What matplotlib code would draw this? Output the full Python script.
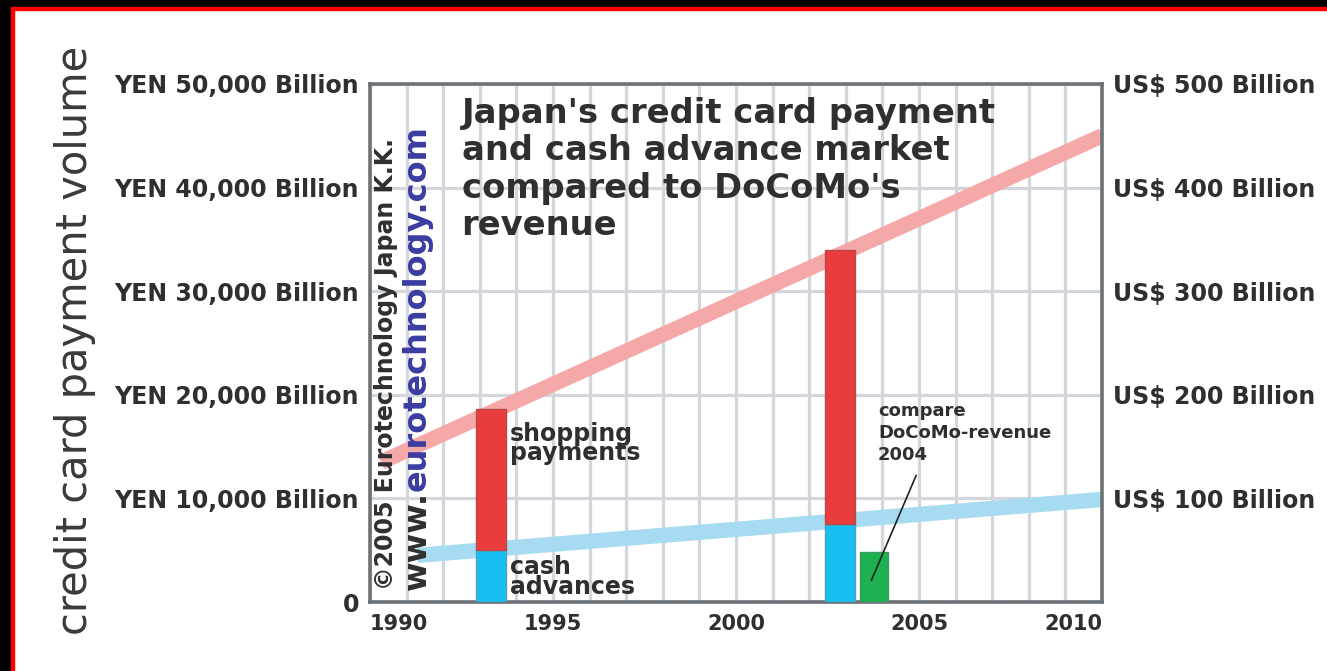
import matplotlib
matplotlib.use("Agg")
import matplotlib.pyplot as plt
from matplotlib.patches import Rectangle

# data (YEN billion)
bar_years = [1993.3, 2002.85]
cash_advances = [5000, 7500]
shopping_payments = [13650, 26450]
docomo_year = 2003.77
docomo_revenue = 4800

payment_trend_x = [1990.3, 2010]
payment_trend_y = [13500, 45000]
cash_trend_x = [1991.3, 2010]
cash_trend_y = [4500, 9900]

yen_ticks = [0, 10000, 20000, 30000, 40000, 50000]
yen_labels = ['0', 'YEN 10,000 Billion', 'YEN 20,000 Billion', 'YEN 30,000 Billion',
              'YEN 40,000 Billion', 'YEN 50,000 Billion']
usd_ticks = [10000, 20000, 30000, 40000, 50000]
usd_labels = ['US$ 100 Billion', 'US$ 200 Billion', 'US$ 300 Billion',
              'US$ 400 Billion', 'US$ 500 Billion']
year_ticks = [1990, 1995, 2000, 2005, 2010]

TXT = '#2f2f2f'
GRID = '#d3d6db'
FRAME = '#6d7276'

plt.rcParams['font.family'] = ['DejaVu Sans']

fig = plt.figure(figsize=(13.27, 6.71), dpi=100)
fig.patch.set_facecolor('white')
ax = fig.add_axes([370 / 1327, 1 - 602 / 671, 732 / 1327, 518 / 671])

ax.set_xlim(1990, 2010)
ax.set_ylim(0, 50000)
ax.set_xticks(year_ticks)
ax.set_xticks(range(1990, 2011), minor=True)
ax.set_yticks(yen_ticks)
ax.set_yticklabels(yen_labels)
ax.grid(True, which='both', color=GRID, linewidth=2.3, zorder=0)
ax.set_axisbelow(True)
ax.tick_params(which='both', length=0)
ax.tick_params(axis='y', pad=8, labelsize=17, labelcolor=TXT)
ax.tick_params(axis='x', pad=9, labelsize=15, labelcolor=TXT)
for lab in ax.get_yticklabels() + ax.get_xticklabels():
    lab.set_fontweight('bold')
xl = ax.get_xticklabels()
xl[0].set_horizontalalignment('left')
xl[-1].set_horizontalalignment('right')
for s in ax.spines.values():
    s.set_color(FRAME)
    s.set_linewidth(2.6)

ax2 = ax.twinx()
ax2.set_ylim(0, 50000)
ax2.set_yticks(usd_ticks)
ax2.set_yticklabels(usd_labels, fontweight='bold')
ax2.tick_params(length=0, pad=8, labelsize=17, labelcolor=TXT)
for s in ax2.spines.values():
    s.set_visible(False)

# trend bands
ax.plot(payment_trend_x, payment_trend_y, color='#f5a8a8', linewidth=11,
        solid_capstyle='butt', zorder=2)
ax.plot(cash_trend_x, cash_trend_y, color='#a6dbf1', linewidth=11,
        solid_capstyle='butt', zorder=2)

# stacked bars
ax.bar(bar_years, cash_advances, width=0.82, color='#17bff0',
       edgecolor='#5a9fb5', linewidth=1, zorder=3)
ax.bar(bar_years, shopping_payments, bottom=cash_advances, width=0.82,
       color='#e83c3d', edgecolor='#b84a4a', linewidth=1, zorder=3)
ax.bar([docomo_year], [docomo_revenue], width=0.74, color='#1db151',
       edgecolor='#3d9a5c', linewidth=1, zorder=3)

# annotations
ax.text(1993.82, 15300, 'shopping\npayments', fontsize=17, fontweight='bold',
        color=TXT, va='center', ha='left', linespacing=0.78, zorder=4)
ax.text(1993.82, 2450, 'cash\nadvances', fontsize=17, fontweight='bold',
        color=TXT, va='center', ha='left', linespacing=0.78, zorder=4)
ax.text(2003.88, 16300, 'compare\nDoCoMo-revenue\n2004', fontsize=13,
        fontweight='bold', color=TXT, va='center', ha='left',
        linespacing=1.3, zorder=4)
ax.plot([2004.92, 2003.7], [12200, 2100], color='#222222', linewidth=1.2, zorder=4)

ax.text(0.125, 0.975, "Japan's credit card payment\nand cash advance market\n"
        "compared to DoCoMo's\nrevenue", transform=ax.transAxes, fontsize=24.3,
        fontweight='bold', color=TXT, va='top', ha='left', linespacing=1.17,
        zorder=4)

# vertical copyright lines
ax.text(1990.45, 1200, '©2005 Eurotechnology Japan K.K.', rotation=90,
        fontsize=17, fontweight='bold', color=TXT, va='bottom', ha='center',
        zorder=4)
w1 = ax.text(1991.3, 1200, 'www.', rotation=90, fontsize=23, fontweight='bold',
             color=TXT, va='bottom', ha='center', zorder=4)
fig.canvas.draw()
bb = w1.get_window_extent()
y_next = ax.transData.inverted().transform((bb.x0, bb.y1))[1]
ax.text(1991.3, y_next, 'eurotechnology.com', rotation=90, fontsize=23,
        fontweight='bold', color='#3b3ca0', va='bottom', ha='center', zorder=4)

# left axis title
fig.text(75 / 1327, 1 - 340 / 671, 'credit card payment volume', rotation=90,
         fontsize=30, color='#3a3a3a', ha='center', va='center')

# frame border (black with red line, top and left)
fig.patches.append(Rectangle((0, 0), 11 / 1327, 1, transform=fig.transFigure,
                             color='black', zorder=10))
fig.patches.append(Rectangle((11 / 1327, 0), 3 / 1327, 1 - 7 / 671,
                             transform=fig.transFigure, color='#ff0000', zorder=10))
fig.patches.append(Rectangle((0, 1 - 7 / 671), 1, 7 / 671, transform=fig.transFigure,
                             color='black', zorder=10))
fig.patches.append(Rectangle((11 / 1327, 1 - 10 / 671), 1, 3 / 671,
                             transform=fig.transFigure, color='#ff0000', zorder=10))

fig.savefig('out.png', dpi=100)
